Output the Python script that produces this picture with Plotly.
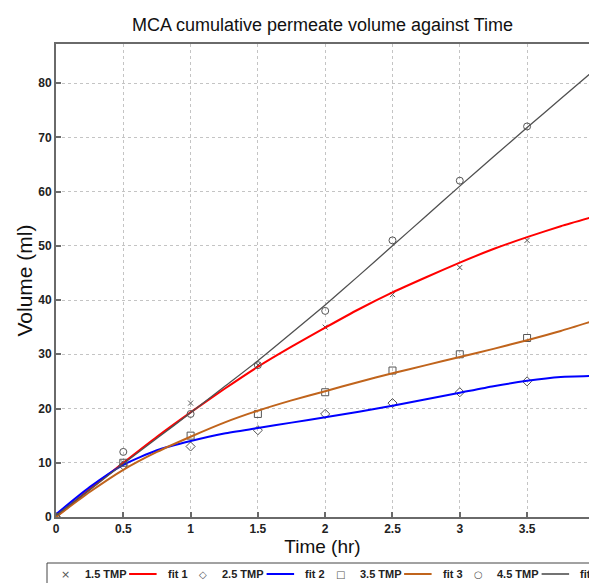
import plotly.graph_objects as go

# ---- data ----
time_hr = [0, 0.5, 1, 1.5, 2, 2.5, 3, 3.5]
tmp_15 = [0, 10, 21, 28, 35, 41, 46, 51]
tmp_25 = [0, 9.5, 13, 16, 19, 21, 23, 25]
tmp_35 = [0, 10, 15, 19, 23, 27, 30, 33]
tmp_45 = [0, 12, 19, 28, 38, 51, 62, 72]

fit_t = [0, 0.25, 0.5, 0.75, 1, 1.25, 1.5, 1.75, 2, 2.25, 2.5, 2.75, 3, 3.25, 3.5, 3.75, 4]
fit_1 = [0, 5.1, 10, 14.8, 19.3, 23.6, 27.7, 31.4, 34.9, 38.3, 41.4, 44.2, 46.9, 49.4, 51.6, 53.6, 55.4]
fit_2 = [0.5, 5.5, 9.6, 12.3, 14, 15.4, 16.4, 17.4, 18.4, 19.4, 20.5, 21.7, 22.9, 24.1, 25.1, 25.8, 26.0]
fit_3 = [0, 4.6, 8.7, 12, 14.8, 17.4, 19.6, 21.5, 23.2, 24.9, 26.5, 28, 29.5, 31, 32.6, 34.3, 36.2]
fit_4 = [0.3, 5, 9.8, 14.5, 19.2, 24, 28.8, 33.9, 39.1, 44.5, 50, 55.5, 61, 66.4, 71.8, 77.1, 82.4]

x_ticks = [0, 0.5, 1, 1.5, 2, 2.5, 3, 3.5]
x_tick_text = ["0", "0.5", "1", "1.5", "2", "2.5", "3", "3.5"]
y_ticks = [0, 10, 20, 30, 40, 50, 60, 70, 80]

point_names = ["1.5 TMP", "2.5 TMP", "3.5 TMP", "4.5 TMP"]
fit_names = ["fit 1", "fit 2", "fit 3", "fit 4"]

FONT = "Liberation Sans Narrow, Liberation Sans, Arial, sans-serif"
MARK = "#555555"
W, H = 589, 583
L, T, B = 56, 44, 66
PW, PH = W - L, H - T - B

def px(xp):
    return (xp - L) / PW

def py(yp):
    return (H - B - yp) / PH

fig = go.Figure()
styles = [
    ("x-thin-open", 5, "\u00d7", "#ff0000", 2),
    ("diamond-open", 7, "\u25c7", "#0000ff", 2),
    ("square-open", 7, "\u25a1", "#c0641c", 2),
    ("circle-open", 7, "\u25cb", "#505050", 1.3),
]
point_sets = [tmp_15, tmp_25, tmp_35, tmp_45]
fit_sets = [fit_1, fit_2, fit_3, fit_4]

for i in range(4):
    sym, size, glyph, col, lw = styles[i]
    fig.add_trace(go.Scatter(
        x=time_hr, y=point_sets[i], mode="markers", name=point_names[i],
        marker=dict(symbol=sym, size=size, color=MARK, line=dict(width=1, color=MARK)),
    ))
    fig.add_trace(go.Scatter(
        x=fit_t, y=fit_sets[i], mode="lines", name=fit_names[i],
        line=dict(color=col, width=lw, shape="spline", smoothing=0.6),
    ))

# ---- legend drawn as a horizontal strip under the axis title (as in the reference) ----
shapes = [dict(type="rect", xref="paper", yref="paper",
               x0=px(47), x1=px(620), y0=py(563), y1=py(600),
               line=dict(color="#444444", width=1), fillcolor="white", layer="above")]
annotations = []
legend_y = py(574)
pair_step = 137.5
for i in range(4):
    sym, size, glyph, col, lw = styles[i]
    base = 65.6 + i * pair_step
    annotations.append(dict(xref="paper", yref="paper", x=px(base), y=legend_y,
                            text=glyph, showarrow=False, xanchor="center", yanchor="middle",
                            font=dict(family="DejaVu Sans", size=10 if i else 11, color=MARK)))
    annotations.append(dict(xref="paper", yref="paper", x=px(base + 17), y=legend_y,
                            text=point_names[i], showarrow=False, xanchor="left", yanchor="middle",
                            font=dict(family=FONT, size=11, color="#222222", weight="bold")))
    shapes.append(dict(type="line", xref="paper", yref="paper",
                       x0=px(base + 63.5), x1=px(base + 91), y0=legend_y, y1=legend_y,
                       line=dict(color=col, width=max(lw, 1.6))))
    annotations.append(dict(xref="paper", yref="paper", x=px(base + 100), y=legend_y,
                            text=fit_names[i], showarrow=False, xanchor="left", yanchor="middle",
                            font=dict(family=FONT, size=11, color="#222222", weight="bold")))

axis_common = dict(
    showgrid=True, gridcolor="#c4c4c4", griddash="dot", gridwidth=1,
    showline=True, linecolor="#6a6a6a", linewidth=2,
    ticks="inside", ticklen=5, tickcolor="#6a6a6a", tickwidth=1.5,
    tickfont=dict(family=FONT, size=12, color="#222222", weight="bold"),
    zeroline=False,
)

fig.update_layout(
    width=W, height=H,
    margin=dict(l=L, r=0, t=T, b=B, autoexpand=False),
    paper_bgcolor="white", plot_bgcolor="white",
    title=dict(
        text="MCA cumulative permeate volume against Time",
        font=dict(family="Liberation Sans, Arial, sans-serif", size=18, color="#111111"),
        x=0.5, xref="paper", xanchor="center",
        y=1 - 25 / H, yref="container", yanchor="middle",
    ),
    xaxis=dict(
        range=[0, 3.96], tickvals=x_ticks, ticktext=x_tick_text, mirror=True,
        title=dict(text="Time (hr)", standoff=4,
                   font=dict(family="Liberation Sans, Arial, sans-serif", size=19, color="#111111")),
        **axis_common,
    ),
    yaxis=dict(
        range=[0, 87.2], tickvals=y_ticks,
        title=dict(text="Volume (ml)", standoff=0,
                   font=dict(family="Liberation Sans, Arial, sans-serif", size=21, color="#111111")),
        **axis_common,
    ),
    showlegend=False,
    shapes=shapes,
    annotations=annotations,
)

fig.write_html("out.html")
